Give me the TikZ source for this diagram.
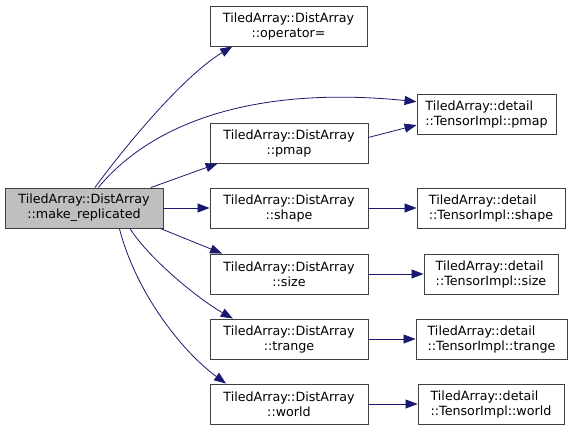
\documentclass[tikz,border=0pt]{standalone}
\usepackage{fontspec}
\setmainfont{DejaVu Sans}
\usetikzlibrary{arrows.meta,positioning}
\definecolor{edgeblue}{HTML}{191970}
\definecolor{mainfill}{HTML}{BFBFBF}

\begin{document}
\begin{tikzpicture}[x=1pt,y=-1pt,
  box/.style={draw=black!75, line width=0.9pt, minimum height=40pt, inner sep=2pt, align=center, font=\fontsize{12.7}{15}\selectfont},
  lbox/.style={box, align=left},
  arr/.style={-{Triangle[length=12pt,width=9pt]}, color=edgeblue, line width=0.8pt}
]
\useasboundingbox (0,0) rectangle (572,431);
% caller
\node[box, fill=mainfill, minimum width=158pt] (mr) at (84,208) {TiledArray::DistArray\\::make\_replicated};
% DistArray members
\node[box, minimum width=157pt] (opeq) at (288.5,26) {TiledArray::DistArray\\::operator=};
\node[box, minimum width=158pt] (pmap) at (289,143) {TiledArray::DistArray\\::pmap};
\node[box, minimum width=158pt] (shape) at (289,208) {TiledArray::DistArray\\::shape};
\node[box, minimum width=158pt] (size) at (289,274) {TiledArray::DistArray\\::size};
\node[box, minimum width=158pt] (trange) at (289,339) {TiledArray::DistArray\\::trange};
\node[box, minimum width=158pt] (world) at (289,404) {TiledArray::DistArray\\::world};
% TensorImpl members
\node[lbox, minimum width=139pt] (tipmap) at (486.5,114) {TiledArray::detail\\::TensorImpl::pmap};
\node[lbox, minimum width=148pt] (tishape) at (491,208) {TiledArray::detail\\::TensorImpl::shape};
\node[lbox, minimum width=134pt] (tisize) at (491,274) {TiledArray::detail\\::TensorImpl::size};
\node[lbox, minimum width=151pt] (titrange) at (491.5,339) {TiledArray::detail\\::TensorImpl::trange};
\node[lbox, minimum width=146pt] (tiworld) at (491,404) {TiledArray::detail\\::TensorImpl::world};
% calls from make_replicated
\draw[arr] (mr.62) .. controls (130,140) and (185,75) .. (opeq.200);
\draw[arr] (mr.55) .. controls (150,125) and (250,85) .. (tipmap.170);
\draw[arr] (mr.17) -- (pmap.196);
\draw[arr] (mr) -- (shape);
\draw[arr] (mr.-15) -- (size.163);
\draw[arr] (mr.-24) .. controls (150,260) and (200,300) .. (trange.160);
\draw[arr] (mr.-30) .. controls (135,290) and (180,350) .. (world.162);
% forwarded calls
\draw[arr] (pmap.4) -- (tipmap.189);
\draw[arr] (shape) -- (tishape);
\draw[arr] (size) -- (tisize);
\draw[arr] (trange) -- (titrange);
\draw[arr] (world) -- (tiworld);
\end{tikzpicture}
\end{document}
